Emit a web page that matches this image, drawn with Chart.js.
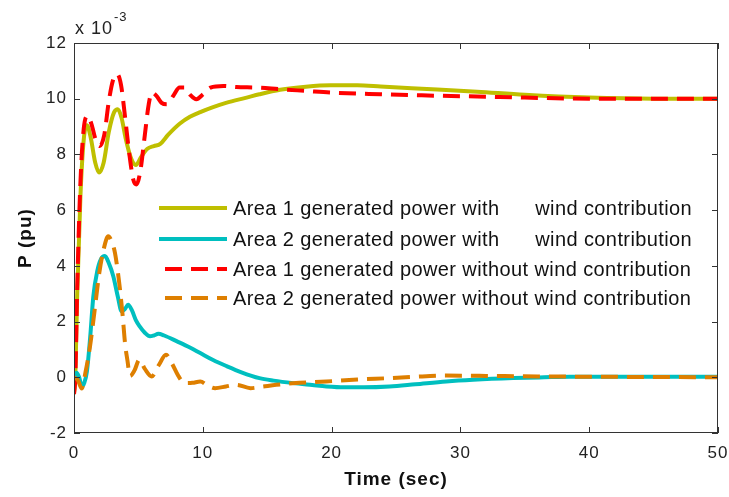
<!DOCTYPE html>
<html lang="en">
<head>
    <meta charset="UTF-8">
    <title>Generated power</title>
    <script src="https://cdn.jsdelivr.net/npm/chart.js"></script>
    <style>
        body { margin: 0; padding: 0; background: #fff; }
        #wrap { width: 729px; height: 497px; position: relative; }
    </style>
</head>
<body>
    <div id="wrap"><canvas id="powerChart"></canvas></div>

    <script>
        // series labels (legend)
        var seriesNames = [
            'Area 1 generated power with      wind contribution',
            'Area 2 generated power with      wind contribution',
            'Area 1 generated power without wind contribution',
            'Area 2 generated power without wind contribution'
        ];

        // Area 1, with wind (x 10^-3 pu)
        var t1 = [0, 0.1, 0.25, 0.5, 0.75, 1.0, 1.3, 1.65, 1.95, 2.3, 2.7, 3.1, 3.4, 3.7, 4.0, 4.4, 4.8, 5.2, 5.7, 6.2, 6.7, 7.3, 8.2, 9.0, 9.8, 10.8, 11.8, 13.4, 14.4, 16, 18, 19.9, 22, 23.8, 27, 31.3, 35, 40, 45, 50];
        var p1 = [-0.6, 0, 3.0, 6.5, 8.5, 9.05, 8.6, 7.7, 7.35, 7.7, 8.8, 9.5, 9.62, 9.3, 8.6, 7.9, 7.62, 7.9, 8.2, 8.3, 8.38, 8.7, 9.1, 9.35, 9.52, 9.7, 9.85, 10.04, 10.16, 10.32, 10.43, 10.48, 10.48, 10.44, 10.36, 10.25, 10.14, 10.04, 10.0, 10.0];

        // Area 2, with wind
        var t2 = [0, 0.2, 0.4, 0.6, 0.8, 1.0, 1.25, 1.5, 1.8, 2.1, 2.4, 2.7, 3.05, 3.4, 3.7, 3.95, 4.2, 4.5, 4.8, 5.1, 5.5, 5.9, 6.2, 6.55, 7.0, 8.0, 9.0, 9.8, 10.8, 11.85, 13, 14.4, 15.5, 17, 18.5, 19.6, 21, 22.5, 24.5, 26.5, 28.9, 31, 34.1, 36.5, 38.5, 42, 46, 50];
        var p2 = [0, 0.16, 0, -0.33, -0.2, 0.2, 1.4, 2.9, 3.8, 4.25, 4.35, 4.1, 3.63, 2.9, 2.37, 2.45, 2.6, 2.4, 2.05, 1.83, 1.6, 1.47, 1.5, 1.56, 1.5, 1.29, 1.07, 0.87, 0.62, 0.4, 0.18, -0.03, -0.12, -0.21, -0.28, -0.33, -0.36, -0.36, -0.33, -0.25, -0.15, -0.09, -0.03, 0, 0.02, 0.02, 0.02, 0.02];

        // Area 1, without wind
        var t3 = [0, 0.1, 0.25, 0.5, 0.75, 1.05, 1.35, 1.7, 2.0, 2.35, 2.7, 3.05, 3.35, 3.65, 3.95, 4.3, 4.6, 4.85, 5.15, 5.5, 5.8, 6.05, 6.4, 6.8, 7.2, 7.7, 8.2, 8.6, 9.0, 9.5, 10.0, 10.6, 11.6, 12.6, 14.2, 16, 18, 20, 23.8, 27, 31.3, 35, 40, 45, 50];
        var p3 = [-0.6, 0, 3.2, 7.0, 8.9, 9.38, 9.1, 8.5, 8.3, 8.7, 9.9, 10.7, 10.88, 10.5, 9.4, 8.0, 7.1, 6.92, 7.4, 8.7, 9.8, 10.22, 10.1, 9.85, 9.8, 10.1, 10.4, 10.4, 10.15, 9.98, 10.15, 10.4, 10.46, 10.42, 10.4, 10.34, 10.28, 10.22, 10.16, 10.12, 10.08, 10.04, 10.0, 10.0, 10.0];

        // Area 2, without wind
        var t4 = [0, 0.3, 0.6, 0.9, 1.24, 1.6, 1.95, 2.27, 2.66, 2.95, 3.18, 3.4, 3.57, 3.78, 3.96, 4.15, 4.35, 4.7, 5.07, 5.5, 6.03, 6.6, 7.14, 7.6, 8.1, 8.6, 9.2, 9.8, 10.4, 10.95, 11.8, 12.6, 13.7, 14.7, 15.7, 17.5, 19.6, 22, 24.5, 26.5, 28.9, 32, 36, 40, 45, 50];
        var p4 = [0, -0.1, -0.4, 0.2, 1.1, 2.4, 3.7, 4.53, 5.06, 4.85, 4.47, 3.8, 3.15, 2.2, 1.23, 0.6, 0.05, 0.25, 0.63, 0.3, 0.03, 0.45, 0.81, 0.5, 0.05, -0.21, -0.2, -0.15, -0.3, -0.39, -0.33, -0.27, -0.39, -0.33, -0.27, -0.2, -0.15, -0.08, -0.03, 0.02, 0.06, 0.05, 0.03, 0.02, 0.01, 0];

        var xTicks = [0, 10, 20, 30, 40, 50];
        var yTicks = [-2, 0, 2, 4, 6, 8, 10, 12];

        function pts(t, p) {
            return t.map(function (v, i) { return { x: v, y: p[i] }; });
        }

        var colors = ['#bfbf00', '#00bfbf', '#ff0000', '#de7f00'];
        var dashes = [[], [], [17, 9], [17, 9]];
        var FONT = "'Liberation Sans', Arial, sans-serif";

        // frame, inward ticks, exponent and legend drawn on top
        var decor = {
            id: 'decor',
            beforeDraw: function (chart) {
                chart.ctx.letterSpacing = '1px';
            },
            afterDatasetsDraw: function (chart) {
                var ctx = chart.ctx, a = chart.chartArea;
                var xs = chart.scales.x, ys = chart.scales.y;
                ctx.save();
                ctx.strokeStyle = '#333';
                ctx.lineWidth = 1;
                ctx.strokeRect(a.left + 0.5, a.top + 0.5, a.right - a.left - 1, a.bottom - a.top - 1);
                ctx.beginPath();
                xTicks.forEach(function (v) {
                    var px = Math.round(xs.getPixelForValue(v)) + 0.5;
                    ctx.moveTo(px, a.bottom); ctx.lineTo(px, a.bottom - 6);
                    ctx.moveTo(px, a.top); ctx.lineTo(px, a.top + 6);
                });
                yTicks.forEach(function (v) {
                    var py = Math.round(ys.getPixelForValue(v)) + 0.5;
                    ctx.moveTo(a.left, py); ctx.lineTo(a.left + 6, py);
                    ctx.moveTo(a.right, py); ctx.lineTo(a.right - 6, py);
                });
                ctx.stroke();

                // x 10^-3
                ctx.fillStyle = '#222';
                ctx.textBaseline = 'alphabetic';
                ctx.textAlign = 'left';
                ctx.letterSpacing = '1px';
                ctx.font = '18px ' + FONT;
                ctx.fillText('x 10', 75, 34);
                ctx.font = '13px ' + FONT;
                ctx.fillText('-3', 114, 21);

                // legend
                var rows = [208, 239, 269, 298];
                ctx.font = '20px ' + FONT;
                ctx.letterSpacing = '0.4px';
                ctx.textBaseline = 'middle';
                chart.data.datasets.forEach(function (ds, i) {
                    ctx.strokeStyle = ds.borderColor;
                    ctx.lineWidth = 4;
                    ctx.setLineDash(ds.borderDash);
                    ctx.beginPath();
                    ctx.moveTo(ds.borderDash.length ? 165 : 159, rows[i]);
                    ctx.lineTo(227, rows[i]);
                    ctx.stroke();
                    ctx.setLineDash([]);
                    ctx.fillStyle = '#111';
                    ctx.fillText(ds.label, 233, rows[i] + 1);
                });
                ctx.restore();
            }
        };

        var ctx = document.getElementById('powerChart').getContext('2d');
        var chart = new Chart(ctx, {
            type: 'line',
            data: {
                datasets: [pts(t1, p1), pts(t2, p2), pts(t3, p3), pts(t4, p4)].map(function (d, i) {
                    return {
                        label: seriesNames[i],
                        data: d,
                        borderColor: colors[i],
                        borderWidth: 4,
                        borderDash: dashes[i],
                        pointRadius: 0,
                        fill: false,
                        cubicInterpolationMode: 'monotone',
                        order: 4 - i
                    };
                })
            },
            options: {
                responsive: true,
                maintainAspectRatio: false,
                animation: false,
                layout: { padding: { top: 43, right: 11, left: 0, bottom: 0 } },
                plugins: { legend: { display: false }, tooltip: { enabled: false } },
                scales: {
                    x: {
                        type: 'linear',
                        min: 0,
                        max: 50,
                        afterFit: function (s) { s.height = 64; s.paddingLeft = 0; s.paddingRight = 0; },
                        afterBuildTicks: function (s) { s.ticks = xTicks.map(function (v) { return { value: v }; }); },
                        grid: { display: false, drawTicks: false, tickLength: 0 },
                        border: { display: false },
                        ticks: { color: '#222', padding: 10, maxRotation: 0, font: { family: FONT, size: 17 } },
                        title: {
                            display: true,
                            text: 'Time (sec)',
                            color: '#111',
                            padding: { top: 0, bottom: 6 },
                            font: { family: FONT, size: 19, weight: 'bold' }
                        }
                    },
                    y: {
                        min: -2,
                        max: 12,
                        afterFit: function (s) { s.width = 74; s.paddingTop = 0; s.paddingBottom = 0; },
                        afterBuildTicks: function (s) { s.ticks = yTicks.map(function (v) { return { value: v }; }); },
                        grid: { display: false, drawTicks: false, tickLength: 0 },
                        border: { display: false },
                        ticks: { color: '#222', padding: 7, font: { family: FONT, size: 17 } },
                        title: {
                            display: true,
                            text: 'P (pu)',
                            color: '#111',
                            padding: { top: 14, bottom: 0 },
                            font: { family: FONT, size: 19, weight: 'bold' }
                        }
                    }
                }
            },
            plugins: [decor]
        });
    </script>
</body>
</html>
